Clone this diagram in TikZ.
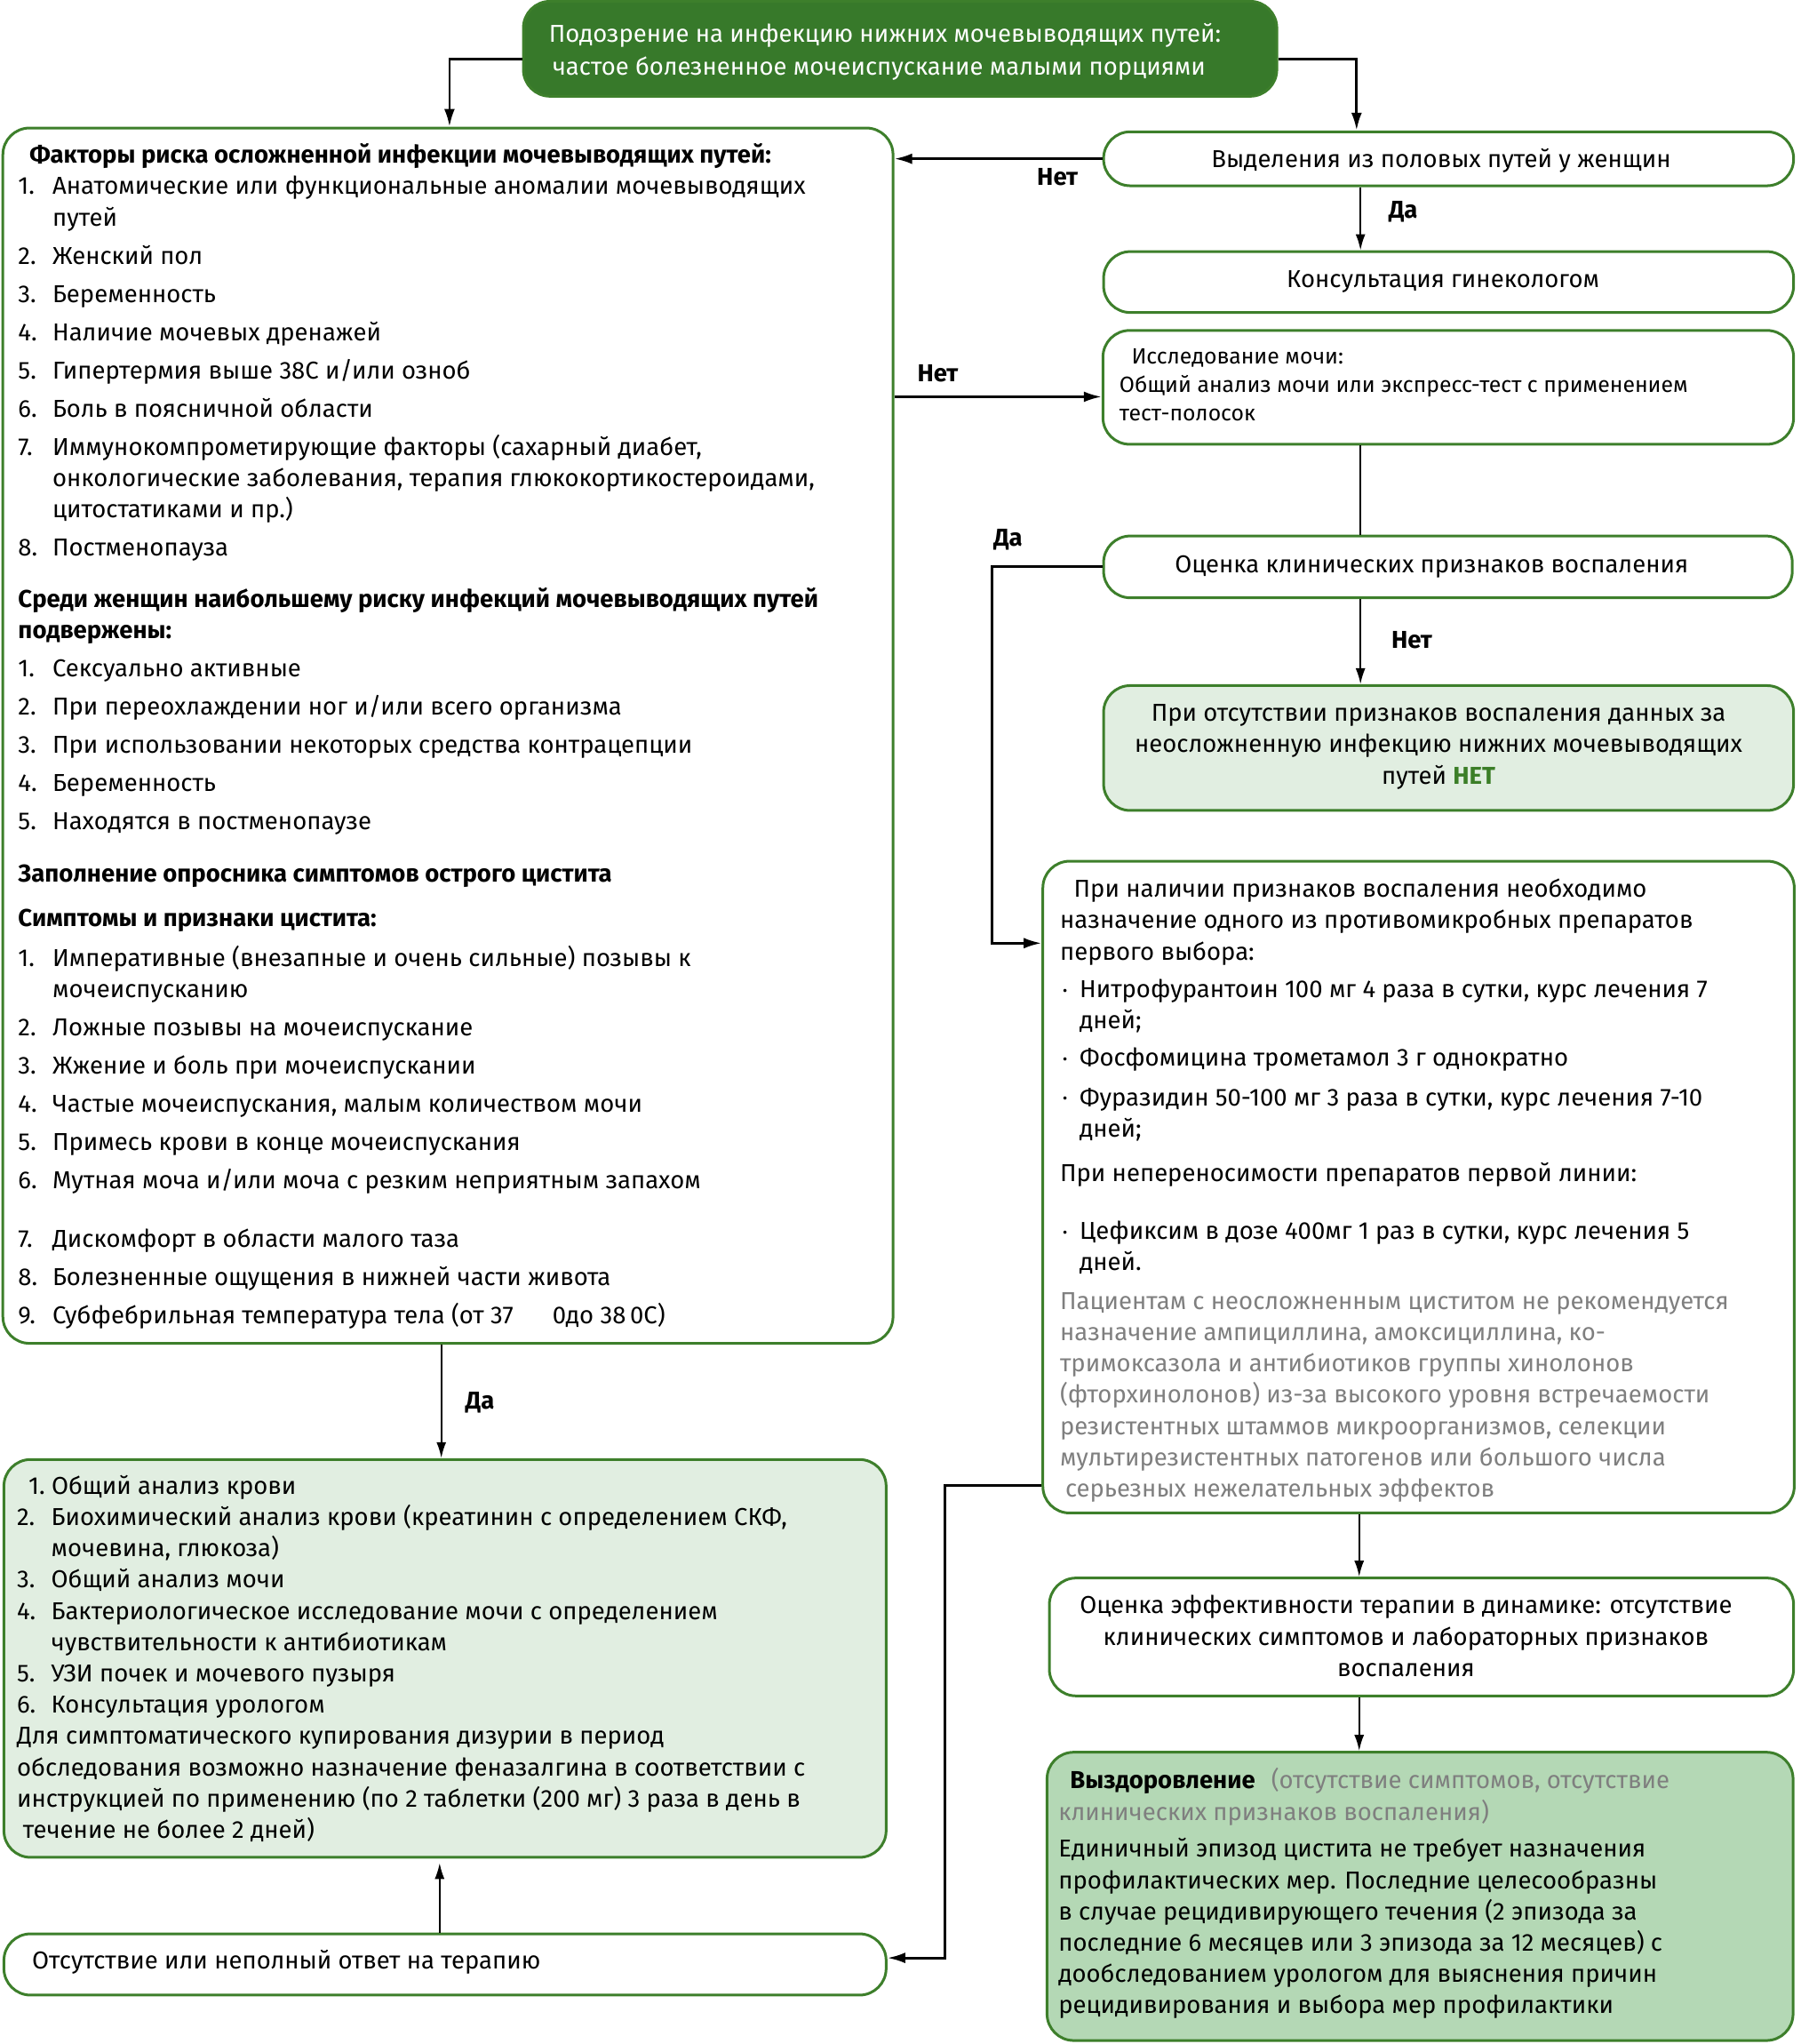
\documentclass[tikz,border=0pt]{standalone}
\usepackage{fontspec}
\setmainfont{Fira Sans}
\usetikzlibrary{arrows.meta,fit}
\definecolor{gborder}{HTML}{3D7F2B}
\definecolor{gdark}{HTML}{37792A}
\definecolor{glight}{HTML}{E1EEE1}
\definecolor{gmid}{HTML}{B4D8B5}
\definecolor{ggray}{HTML}{7F7F7F}
\definecolor{gnet}{HTML}{3B7E27}
\newcommand\mainfs{\fontsize{13.75}{17.6}\selectfont}
\newcommand\gapp[1]{\cr\noalign{\vskip#1}}
\newcommand\gap{\gapp{3.9pt}}
\newcommand\numb[1]{\makebox[19.3pt][l]{#1}}
\newcommand\indt{\hspace*{19.3pt}}
\newcommand\bul{\hspace*{1.5pt}\makebox[9.5pt][l]{\raisebox{1.2pt}{\fontsize{8}{8}\selectfont\textbullet}}}
\newcommand\indb{\hspace*{11pt}}
\newcommand\lvt[2][\mainfs]{\vtop{#1\halign{##\hfil\cr#2\crcr}}}
\newcommand\cvt[2][\mainfs]{\vtop{#1\halign{\hfil##\hfil\cr#2\crcr}}}
\begin{document}
\begin{tikzpicture}[x=0.7319pt,y=-0.7319pt,
  bx/.style={draw=gborder,line width=1.5pt,rounded corners=15pt,inner sep=0pt,fit={#1}},
  txt/.style={inner sep=0pt,outer sep=0pt,anchor=base west},
  ctxt/.style={inner sep=0pt,outer sep=0pt,anchor=base},
  lbl/.style={inner sep=0pt,anchor=base,font=\mainfs\bfseries},
  arr/.style={-{Latex[length=9pt,width=5.5pt]},line width=1pt},
  arrt/.style={-{Latex[length=10pt,width=6pt]},line width=1.4pt},
  ln/.style={line width=1pt}]
\useasboundingbox (0,0) rectangle (1384.1,1571.2);

% boxes
\node[bx={(402.4,1) (981.7,74)},fill=gdark] (top) {};
\node[bx={(2.2,98.4) (686.6,1032.6)},fill=white] (lbox) {};
\node[bx={(848.5,101.3) (1379,142.8)}] (b1) {};
\node[bx={(848.5,193.4) (1379,240.2)}] (b2) {};
\node[bx={(848,254) (1379,341.5)}] (b3) {};
\node[bx={(848.5,412) (1378,459.5)}] (b4) {};
\node[bx={(848.5,527) (1379,623)},fill=glight] (b45) {};
\node[bx={(801.8,662) (1379.5,1163)}] (b5) {};
\node[bx={(806.8,1213) (1379,1303.6)}] (b6) {};
\node[bx={(805,1346.9) (1378.6,1568.5)},fill=gmid] (b7) {};
\node[bx={(3,1121.9) (681.3,1427.7)},fill=glight] (bl) {};
\node[bx={(3,1486.5) (681.3,1533.6)}] (bot) {};

% bend points
\coordinate (kA) at (345.6,0);
\coordinate (kB) at (1043,0);
\coordinate (kC) at (1046,0);
\coordinate (kD) at (0,305);
\coordinate (kE) at (762.7,725);
\coordinate (kF) at (726.5,1142);
\coordinate (kG) at (726.5,1505);
\coordinate (kH) at (1045,0);
\coordinate (kI) at (339.3,0);
\coordinate (kK) at (338,1432);

% connectors
\draw[arrt] ([yshift=-5.9pt]top.west) -| (lbox.north -| kA);
\draw[arrt] ([yshift=-5.9pt]top.east) -| (b1.north -| kB);
\draw[arrt] (b1.west) -- (lbox.east |- b1.west);
\draw[arr] (b1.south -| kC) -- (b2.north -| kC);
\draw[arrt] (lbox.east |- kD) -- (b3.west |- kD);
\draw[ln] (b3.south -| kC) -- (b4.north -| kC);
\draw[arrt] (b4.west) -| (kE) -- (b5.west |- kE);
\draw[arr] (b4.south -| kC) -- (b45.north -| kC);
\draw[arrt] (b5.west |- kF) -| (kG) -- (bot.east |- kG);
\draw[arr] (b5.south -| kH) -- (b6.north -| kH);
\draw[arr] (b6.south -| kH) -- (b7.north -| kH);
\draw[arr] (lbox.south -| kI) -- (bl.north -| kI);
\draw[arr] (bot.north -| kK) -- (kK);

% labels
\node[lbl] (l1) at (813,142.3) {Нет};
\node[lbl] (l2) at (1078.8,167.5) {Да};
\node[lbl] (l3) at (721,293.7) {Нет};
\node[lbl] (l4) at (775,419.7) {Да};
\node[lbl] (l5) at (1085.5,498.2) {Нет};
\node[lbl] (l6) at (369,1083.4) {Да};

% texts
\node[txt,text=white] (ttop) at (422,32.5)
 {\lvt[\fontsize{13.75}{18.3}\selectfont]{Подозрение на инфекцию нижних мочевыводящих путей:\cr
  \hspace*{2pt}частое болезненное мочеиспускание малыми порциями}};

\node[ctxt] (t1) at (1108,128.5) {\cvt{Выделения из половых путей у женщин}};
\node[ctxt] (t2) at (1109.5,220.7) {\cvt{Консультация гинекологом}};
\node[txt] (t3) at (860.7,279.4)
 {\lvt[\fontsize{12.4}{16.2}\selectfont]{\hspace*{6.8pt}Исследование мочи:\cr
  Общий анализ мочи или экспресс-тест с применением\cr
  тест-полосок}};
\node[ctxt] (t4) at (1100.7,440.5) {\cvt{Оценка клинических признаков воспаления}};
\node[ctxt] (t45) at (1106,554.5)
 {\cvt{При отсутствии признаков воспаления данных за\cr
  неосложненную инфекцию нижних мочевыводящих\cr
  путей \textbf{\textcolor{gnet}{НЕТ}}}};

\node[txt] (tl) at (14,125.5) {\lvt{%
\hspace*{6.5pt}\textbf{Факторы риска осложненной инфекции мочевыводящих путей:}\cr
\numb{1.}Анатомические или функциональные аномалии мочевыводящих\cr
\indt путей\gap
\numb{2.}Женский пол\gap
\numb{3.}Беременность\gap
\numb{4.}Наличие мочевых дренажей\gap
\numb{5.}Гипертермия выше 38С и/или озноб\gap
\numb{6.}Боль в поясничной области\gap
\numb{7.}Иммунокомпрометирующие факторы (сахарный диабет,\cr
\indt онкологические заболевания, терапия глюкокортикостероидами,\cr
\indt цитостатиками и пр.)\gap
\numb{8.}Постменопауза\gapp{11.4pt}
\textbf{Среди женщин наибольшему риску инфекций мочевыводящих путей}\cr
\textbf{подвержены:}\gap
\numb{1.}Сексуально активные\gap
\numb{2.}При переохлаждении ног и/или всего организма\gap
\numb{3.}При использовании некоторых средства контрацепции\gap
\numb{4.}Беременность\gap
\numb{5.}Находятся в постменопаузе\gapp{11.6pt}
\textbf{Заполнение опросника симптомов острого цистита}\gapp{7.5pt}
\textbf{Симптомы и признаки цистита:}\gapp{4.9pt}
\numb{1.}Императивные (внезапные и очень сильные) позывы к\cr
\indt мочеиспусканию\gap
\numb{2.}Ложные позывы на мочеиспускание\gap
\numb{3.}Жжение и боль при мочеиспускании\gap
\numb{4.}Частые мочеиспускания, малым количеством мочи\gap
\numb{5.}Примесь крови в конце мочеиспускания\gap
\numb{6.}Мутная моча и/или моча с резким неприятным запахом\gapp{15.4pt}
\numb{7.}Дискомфорт в области малого таза\gap
\numb{8.}Болезненные ощущения в нижней части живота\gap
\numb{9.}Субфебрильная температура тела (от 37\hspace*{22pt}0до 38\,0С)}};

\node[txt] (t5) at (815,689.7) {\lvt{%
\hspace*{7.8pt}При наличии признаков воспаления необходимо\cr
назначение одного из противомикробных препаратов\cr
первого выбора:\gapp{3.7pt}
\bul Нитрофурантоин 100 мг 4 раза в сутки, курс лечения 7\cr
\indb дней;\gapp{3.3pt}
\bul Фосфомицина трометамол 3 г однократно\gapp{4.6pt}
\bul Фуразидин 50-100 мг 3 раза в сутки, курс лечения 7-10\cr
\indb дней;\gapp{7.5pt}
При непереносимости препаратов первой линии:\gapp{15pt}
\bul Цефиксим в дозе 400мг 1 раз в сутки, курс лечения 5\cr
\indb дней.\gapp{4.1pt}
\textcolor{ggray}{Пациентам с неосложненным циститом не рекомендуется}\cr
\textcolor{ggray}{назначение ампициллина, амоксициллина, ко-}\cr
\textcolor{ggray}{тримоксазола и антибиотиков группы хинолонов}\cr
\textcolor{ggray}{(фторхинолонов) из-за высокого уровня встречаемости}\cr
\textcolor{ggray}{резистентных штаммов микроорганизмов, селекции}\cr
\textcolor{ggray}{мультирезистентных патогенов или большого числа}\cr
\textcolor{ggray}{\hspace*{3pt}серьезных нежелательных эффектов}}};

\node[ctxt] (t6) at (1081,1240.5)
 {\cvt{Оценка эффективности терапии в динамике: отсутствие\cr
  клинических симптомов и лабораторных признаков\cr
  воспаления}};

\node[txt] (t7) at (813.8,1375) {\lvt{%
\hspace*{6.5pt}\textbf{Выздоровление}\hspace*{9pt}\textcolor{ggray}{(отсутствие симптомов, отсутствие}\cr
\textcolor{ggray}{клинических признаков воспаления)}\gapp{3.3pt}
Единичный эпизод цистита не требует назначения\cr
профилактических мер. Последние целесообразны\cr
в случае рецидивирующего течения (2 эпизода за\cr
последние 6 месяцев или 3 эпизода за 12 месяцев) с\cr
дообследованием урологом для выяснения причин\cr
рецидивирования и выбора мер профилактики}};

\node[txt] (tbl) at (13,1148.5) {\lvt{%
\hspace*{6.6pt}\makebox[12.9pt][l]{1.}Общий анализ крови\cr
\numb{2.}Биохимический анализ крови (креатинин с определением СКФ,\cr
\indt мочевина, глюкоза)\cr
\numb{3.}Общий анализ мочи\cr
\numb{4.}Бактериологическое исследование мочи с определением\cr
\indt чувствительности к антибиотикам\cr
\numb{5.}УЗИ почек и мочевого пузыря\cr
\numb{6.}Консультация урологом\cr
Для симптоматического купирования дизурии в период\cr
обследования возможно назначение феназалгина в соответствии с\cr
инструкцией по применению (по 2 таблетки (200 мг) 3 раза в день в\cr
\hspace*{3.4pt}течение не более 2 дней)}};

\node[txt] (tbot) at (24.7,1513.5) {\mainfs Отсутствие или неполный ответ на терапию};
\end{tikzpicture}
\end{document}
